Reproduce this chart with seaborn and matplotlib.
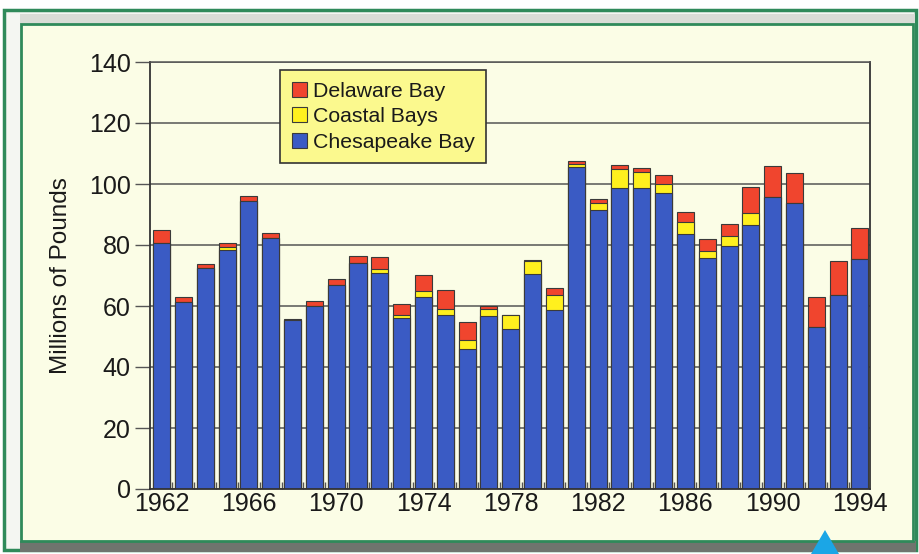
"""
Desembarques anuales en millones de libras por bahía, 1962-1994 (barras apiladas).
"""
import matplotlib
matplotlib.use("Agg")
import matplotlib.pyplot as plt
import matplotlib.patches as mpatches
import numpy as np
import pandas as pd
import seaborn as sns

years = list(range(1962, 1995))
chesapeake = [80.5, 61.3, 72.3, 78.5, 94.3, 82.2, 55.5, 60.0, 67.0, 74.1, 70.8,
              56.0, 62.9, 56.9, 45.8, 56.7, 52.4, 70.5, 58.7, 105.5, 91.4, 98.8,
              98.8, 97.1, 83.7, 75.7, 79.6, 86.4, 95.7, 93.8, 53.2, 63.6, 75.5]
coastal = [0.0, 0.0, 0.0, 1.0, 0.0, 0.0, 0.0, 0.0, 0.0, 0.0, 1.4,
           1.1, 2.0, 2.0, 3.1, 2.2, 4.6, 4.4, 4.9, 1.0, 2.4, 6.0,
           5.2, 2.9, 3.8, 2.2, 3.2, 4.0, 0.0, 0.0, 0.0, 0.0, 0.0]
delaware = [4.5, 1.7, 1.4, 1.3, 1.7, 1.8, 0.3, 1.6, 1.8, 2.4, 3.8,
            3.7, 5.4, 6.2, 6.0, 1.1, 0.0, 0.3, 2.3, 1.2, 1.2, 1.3,
            1.1, 3.1, 3.3, 4.1, 4.2, 8.5, 10.2, 9.9, 9.7, 11.2, 10.2]
tick_years = list(range(1962, 1995, 4))

c_blue = "#3A5BC4"
c_yellow = "#FFF01E"
c_red = "#F0452E"
cream = "#FBFDE6"

df = pd.DataFrame({"year": years, "ches": chesapeake, "coast": coastal, "dela": delaware})
df["tope_coast"] = df["ches"] + df["coast"]
df["total"] = df["tope_coast"] + df["dela"]

sns.set_style("white")
plt.rcParams["font.family"] = ["Liberation Sans", "DejaVu Sans"]

W, H = 919, 554
fig = plt.figure(figsize=(W / 100, H / 100), dpi=100, facecolor="white")


def px(x, y):
    return (x / W, 1 - y / H)


def rect(x0, y0, x1, y1, **kw):
    p = mpatches.Rectangle(px(x0, y1), (x1 - x0) / W, (y1 - y0) / H,
                           transform=fig.transFigure, zorder=-10, **kw)
    fig.add_artist(p)


# marco verde con sombra
rect(4, 10, 916, 550, facecolor="#F4F6F2", edgecolor="#2F8A5A", linewidth=2.5)
rect(20, 14, 915, 24, facecolor="#D9DCD6", edgecolor="none")
rect(20, 541, 916, 552, facecolor="#6F746E", edgecolor="none")
rect(21, 24, 913, 541, facecolor=cream, edgecolor="#2F8A5A", linewidth=2)
tri = mpatches.Polygon([px(825, 530), px(811, 554), px(839, 554)], closed=True,
                       transform=fig.transFigure, facecolor="#1BA6E6", edgecolor="none",
                       zorder=-5)
fig.add_artist(tri)

ax = fig.add_axes([150 / W, 1 - 489 / H, 720 / W, 427 / H])
ax.set_facecolor(cream)

kw = dict(native_scale=True, width=0.78, edgecolor="#3A3A3A", linewidth=0.8, ax=ax)
sns.barplot(data=df, x="year", y="total", color=c_red, saturation=1, label="Delaware Bay", **kw)
sns.barplot(data=df, x="year", y="tope_coast", color=c_yellow, saturation=1, label="Coastal Bays", **kw)
sns.barplot(data=df, x="year", y="ches", color=c_blue, saturation=1, label="Chesapeake Bay", **kw)

ax.set_xlim(1961.47, 1994.46)
ax.set_ylim(0, 140)
ax.set_yticks(range(0, 141, 20))
ax.set_xticks(tick_years)
ax.set_xticklabels([str(y) for y in tick_years])
ax.set_xticks(np.arange(1962.5, 1994, 1), minor=True)
ax.yaxis.grid(True, color="#555555", linewidth=1.1)
ax.set_axisbelow(True)

ax.tick_params(axis="y", direction="out", length=11, width=1, color="#555555",
               labelsize=18, pad=3, left=True, labelcolor="#1A1A1A")
ax.tick_params(axis="x", which="major", length=0, labelsize=18, pad=2, labelcolor="#1A1A1A")
ax.tick_params(axis="x", which="minor", direction="in", length=5, width=1,
               color="#555555", bottom=True)
for s in ["left", "right", "bottom"]:
    ax.spines[s].set_color("#333333")
    ax.spines[s].set_linewidth(1.3)
ax.spines["top"].set_color("#555555")
ax.spines["top"].set_linewidth(1.1)

ax.set_xlabel("")
ax.set_ylabel("Millions of Pounds", fontsize=17.5, labelpad=12, color="#1A1A1A")

leg = ax.legend(loc="upper left", bbox_to_anchor=(0.1806, 0.981), borderaxespad=0,
                fontsize=15.3, frameon=True, fancybox=False, facecolor="#FBF98E",
                edgecolor="#333333", framealpha=1, handlelength=0.7, handleheight=0.7,
                handletextpad=0.3, labelspacing=0.3, borderpad=0.55)
leg.get_frame().set_linewidth(1.2)
for t in leg.get_texts():
    t.set_color("#1A1A1A")

fig.savefig("out.png", dpi=100, facecolor="white")
